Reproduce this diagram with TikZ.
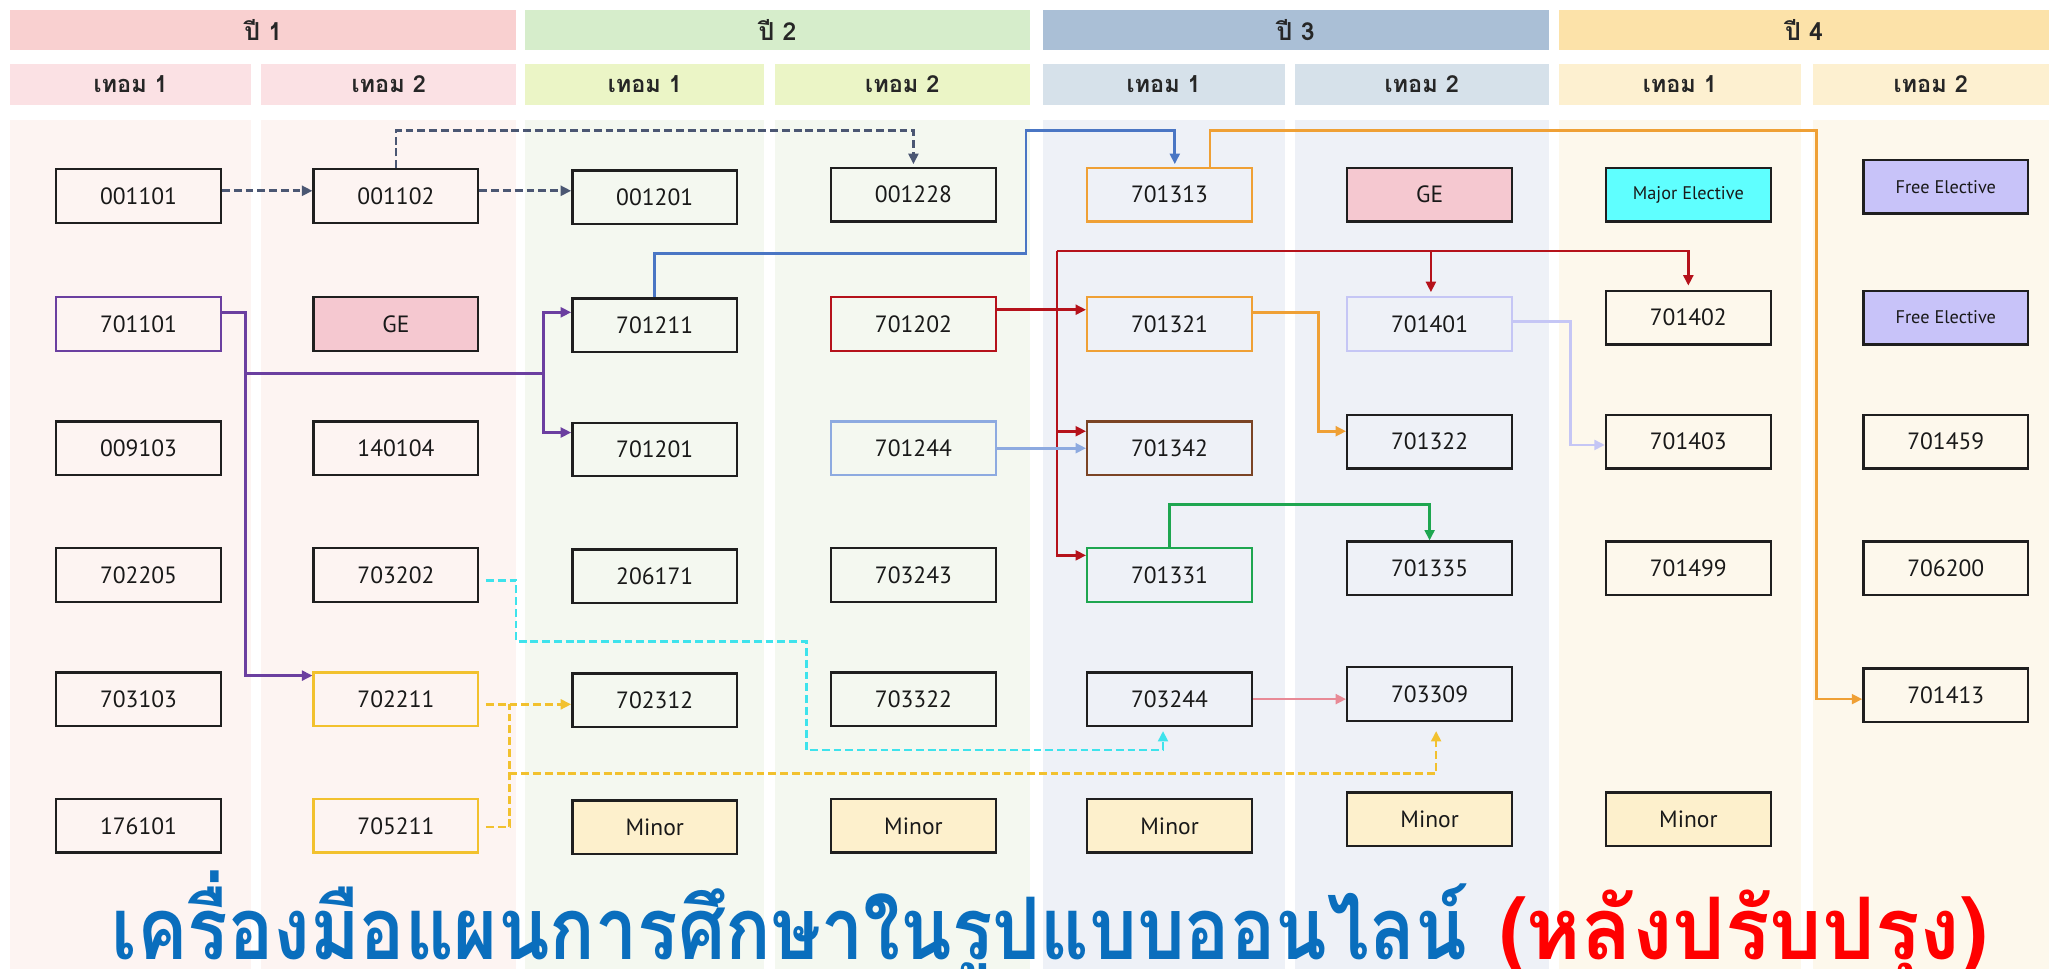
\documentclass[tikz,border=0pt]{standalone}
\usepackage{fontspec}
\setmainfont{PT Sans}
\newfontfamily\thaifont[Script=Thai]{Loma}
\usetikzlibrary{arrows.meta,calc}
\definecolor{hY1}{HTML}{F9D0D0}\definecolor{sY1}{HTML}{FBE1E4}\definecolor{bY1}{HTML}{FDF4F2}
\definecolor{hY2}{HTML}{D6EDCB}\definecolor{sY2}{HTML}{EBF5C6}\definecolor{bY2}{HTML}{F4F8F0}
\definecolor{hY3}{HTML}{AABFD6}\definecolor{sY3}{HTML}{D6E1EA}\definecolor{bY3}{HTML}{EEF1F7}
\definecolor{hY4}{HTML}{FCE2A9}\definecolor{sY4}{HTML}{FDF0D0}\definecolor{bY4}{HTML}{FDF8EC}
\definecolor{cslate}{HTML}{4B5773}
\definecolor{cpurple}{HTML}{6B3FA0}
\definecolor{cblue}{HTML}{4A76C4}
\definecolor{corange}{HTML}{EFA035}
\definecolor{cred}{HTML}{B5121B}
\definecolor{clblue}{HTML}{8DAAE0}
\definecolor{clav}{HTML}{C5C6F5}
\definecolor{cgreen}{HTML}{1EA650}
\definecolor{cpink}{HTML}{E88A96}
\definecolor{ccyan}{HTML}{3EE3EC}
\definecolor{cyellow}{HTML}{F2C12E}
\definecolor{cbrown}{HTML}{7B4425}
\definecolor{fGE}{HTML}{F5C8D0}
\definecolor{fMinor}{HTML}{FDF0CC}
\definecolor{fMajor}{HTML}{5FFFFF}
\definecolor{fFree}{HTML}{C8C3F9}
\definecolor{ttlblue}{HTML}{0A6EBD}
\definecolor{ttlred}{HTML}{FF0000}
\begin{document}
\begin{tikzpicture}[x=1pt,y=-1pt,
  yearhdr/.style={minimum height=30pt,inner sep=0pt,font=\thaifont\bfseries\fontsize{19}{22}\selectfont,text=black!85},
  semhdr/.style={minimum height=31pt,inner sep=0pt,font=\thaifont\bfseries\fontsize{18}{21}\selectfont,text=black!85},
  cbox/.style={draw=black!88,line width=1.8pt,minimum width=126pt,minimum height=41pt,inner sep=0pt,font=\fontsize{18}{20}\selectfont,text=black!90},
  small/.style={font=\fontsize{14}{16}\selectfont},
  conn/.style={line width=2pt,-{Triangle[length=8pt,width=7.5pt]}},
  plain/.style={line width=2pt},
  dsh/.style={dash pattern=on 6pt off 3pt},
  ttl/.style={anchor=base west,inner sep=0pt,font=\thaifont\bfseries\fontsize{66}{72}\selectfont}]
\useasboundingbox (0,0) rectangle (1568,741.5);
\fill[white] (0,0) rectangle (1568,741.5);
% column backgrounds
\fill[bY1] (8,92) rectangle (192,742);
\fill[bY1] (200,92) rectangle (395,742);
\fill[bY2] (402,92) rectangle (585,742);
\fill[bY2] (593,92) rectangle (788,742);
\fill[bY3] (798,92) rectangle (983,742);
\fill[bY3] (991,92) rectangle (1185,742);
\fill[bY4] (1193,92) rectangle (1378,742);
\fill[bY4] (1387,92) rectangle (1568,742);
% year headers
\node[yearhdr,fill=hY1,minimum width=387pt] (yr1) at (201.5,23) {ปี 1};
\node[yearhdr,fill=hY2,minimum width=386pt] (yr2) at (595,23) {ปี 2};
\node[yearhdr,fill=hY3,minimum width=387pt] (yr3) at (991.5,23) {ปี 3};
\node[yearhdr,fill=hY4,minimum width=375pt] (yr4) at (1380.5,23) {ปี 4};
% semester headers
\node[semhdr,fill=sY1,minimum width=184pt] (s11) at (100,64.5) {เทอม 1};
\node[semhdr,fill=sY1,minimum width=195pt] (s12) at (297.5,64.5) {เทอม 2};
\node[semhdr,fill=sY2,minimum width=183pt] (s21) at (493.5,64.5) {เทอม 1};
\node[semhdr,fill=sY2,minimum width=195pt] (s22) at (690.5,64.5) {เทอม 2};
\node[semhdr,fill=sY3,minimum width=185pt] (s31) at (890.5,64.5) {เทอม 1};
\node[semhdr,fill=sY3,minimum width=194pt] (s32) at (1088,64.5) {เทอม 2};
\node[semhdr,fill=sY4,minimum width=185pt] (s41) at (1285.5,64.5) {เทอม 1};
\node[semhdr,fill=sY4,minimum width=181pt] (s42) at (1477.5,64.5) {เทอม 2};
% column 1
\node[cbox] (n001101) at (106,150) {001101};
\node[cbox,draw=cpurple] (n701101) at (106,248) {701101};
\node[cbox] (n009103) at (106,343) {009103};
\node[cbox] (n702205) at (106,440) {702205};
\node[cbox] (n703103) at (106,535) {703103};
\node[cbox] (n176101) at (106,632) {176101};
% column 2
\node[cbox] (n001102) at (303,150) {001102};
\node[cbox,fill=fGE] (ge1) at (303,248) {GE};
\node[cbox] (n140104) at (303,343) {140104};
\node[cbox] (n703202) at (303,440) {703202};
\node[cbox,draw=cyellow] (n702211) at (303,535) {702211};
\node[cbox,draw=cyellow] (n705211) at (303,632) {705211};
% column 3
\node[cbox] (n001201) at (501,151) {001201};
\node[cbox] (n701211) at (501,249) {701211};
\node[cbox] (n701201) at (501,344) {701201};
\node[cbox] (n206171) at (501,441) {206171};
\node[cbox] (n702312) at (501,536) {702312};
\node[cbox,fill=fMinor] (mi1) at (501,633) {Minor};
% column 4
\node[cbox] (n001228) at (699,149) {001228};
\node[cbox,draw=cred] (n701202) at (699,248) {701202};
\node[cbox,draw=clblue] (n701244) at (699,343) {701244};
\node[cbox] (n703243) at (699,440) {703243};
\node[cbox] (n703322) at (699,535) {703322};
\node[cbox,fill=fMinor] (mi2) at (699,632) {Minor};
% column 5
\node[cbox,draw=corange] (n701313) at (895,149) {701313};
\node[cbox,draw=corange] (n701321) at (895,248) {701321};
\node[cbox,draw=cbrown] (n701342) at (895,343) {701342};
\node[cbox,draw=cgreen] (n701331) at (895,440) {701331};
\node[cbox] (n703244) at (895,535) {703244};
\node[cbox,fill=fMinor] (mi3) at (895,632) {Minor};
% column 6
\node[cbox,fill=fGE] (ge2) at (1094,149) {GE};
\node[cbox,draw=clav] (n701401) at (1094,248) {701401};
\node[cbox] (n701322) at (1094,338) {701322};
\node[cbox] (n701335) at (1094,435) {701335};
\node[cbox] (n703309) at (1094,531) {703309};
\node[cbox,fill=fMinor] (mi4) at (1094,627) {Minor};
% column 7
\node[cbox,fill=fMajor,small] (major) at (1292,149) {Major Elective};
\node[cbox] (n701402) at (1292,243) {701402};
\node[cbox] (n701403) at (1292,338) {701403};
\node[cbox] (n701499) at (1292,435) {701499};
\node[cbox,fill=fMinor] (mi5) at (1292,627) {Minor};
% column 8
\node[cbox,fill=fFree,small] (free1) at (1489,143) {Free Elective};
\node[cbox,fill=fFree,small] (free2) at (1489,243) {Free Elective};
\node[cbox] (n701459) at (1489,338) {701459};
\node[cbox] (n706200) at (1489,435) {706200};
\node[cbox] (n701413) at (1489,532) {701413};
% connectors: dashed slate
\draw[conn,dsh,cslate] ($(n001101.east)+(0,-4)$) -- ($(n001102.west)+(0,-4)$);
\draw[conn,dsh,cslate] ($(n001102.east)+(0,-4)$) -- ($(n001201.west)+(0,-5)$);
\draw[conn,dsh,cslate,shorten >=2pt] (n001102.north) |- (699,100) -- (n001228.north);
% purple
\draw[conn,cpurple] ($(n701101.east)+(0,-9)$) -| (188,517) -- ($(n702211.west)+(0,-18)$);
\draw[plain,cpurple] (188,286) -- (416,286);
\draw[conn,cpurple] (416,286) |- ($(n701211.west)+(0,-10)$);
\draw[conn,cpurple] (416,286) |- ($(n701201.west)+(0,-13)$);
% blue
\draw[conn,cblue,shorten >=2pt] (n701211.north) |- (785,194) -- (785,100) -| ($(n701313.north)+(4,0)$);
% orange long
\draw[conn,corange] ($(n701313.north)+(31,0)$) |- (1390,100) |- ($(n701413.west)+(0,3)$);
% red tree
\draw[conn,cred] ($(n701202.east)+(0,-11)$) -- ($(n701321.west)+(0,-11)$);
\draw[plain,cred] (809,237) -- (809,192);
\draw[conn,cred,shorten >=3pt] (809,192) -| (n701402.north);
\draw[conn,cred,shorten >=3pt] (1095,192) -- ($(n701401.north)+(1,0)$);
\draw[conn,cred] (809,237) |- ($(n701342.west)+(0,-13)$);
\draw[conn,cred] (809,237) |- ($(n701331.west)+(0,-15)$);
% light blue
\draw[conn,clblue] (n701244.east) -- (n701342.west);
% orange 701321 -> 701322
\draw[conn,corange] ($(n701321.east)+(0,-9)$) -| (1009,330) -- ($(n701322.west)+(0,-8)$);
% lavender
\draw[conn,clav] ($(n701401.east)+(0,-2)$) -| (1202,340.5) -- ($(n701403.west)+(0,2.5)$);
% green
\draw[conn,cgreen] (n701331.north) |- (1094,386) -- (n701335.north);
% pink
\draw[conn,cpink] (n703244.east) -- ($(n703309.west)+(0,4)$);
% cyan dashed
\draw[conn,dsh,ccyan,shorten >=3pt] ($(n703202.east)+(5,4)$) -| (395,491) -| (617,574) -| ($(n703244.south)+(-5,0)$);
% yellow dashed
\draw[conn,dsh,cyellow] ($(n702211.east)+(5,4)$) -- ($(n702312.west)+(0,3)$);
\draw[plain,dsh,cyellow] ($(n705211.east)+(5,1)$) -| (390,539);
\draw[conn,dsh,cyellow,shorten >=7pt] (390,592) -| ($(n703309.south)+(5,0)$);
% title
\node[ttl,text=ttlblue] (ttl1) at (85,734) {\resizebox{1037pt}{\height}{เครื่องมือแผนการศึกษาในรูปแบบออนไลน์}};
\node[ttl,text=ttlred] (ttl2) at (1147,734) {\resizebox{374pt}{\height}{(หลังปรับปรุง)}};
\end{tikzpicture}
\end{document}
